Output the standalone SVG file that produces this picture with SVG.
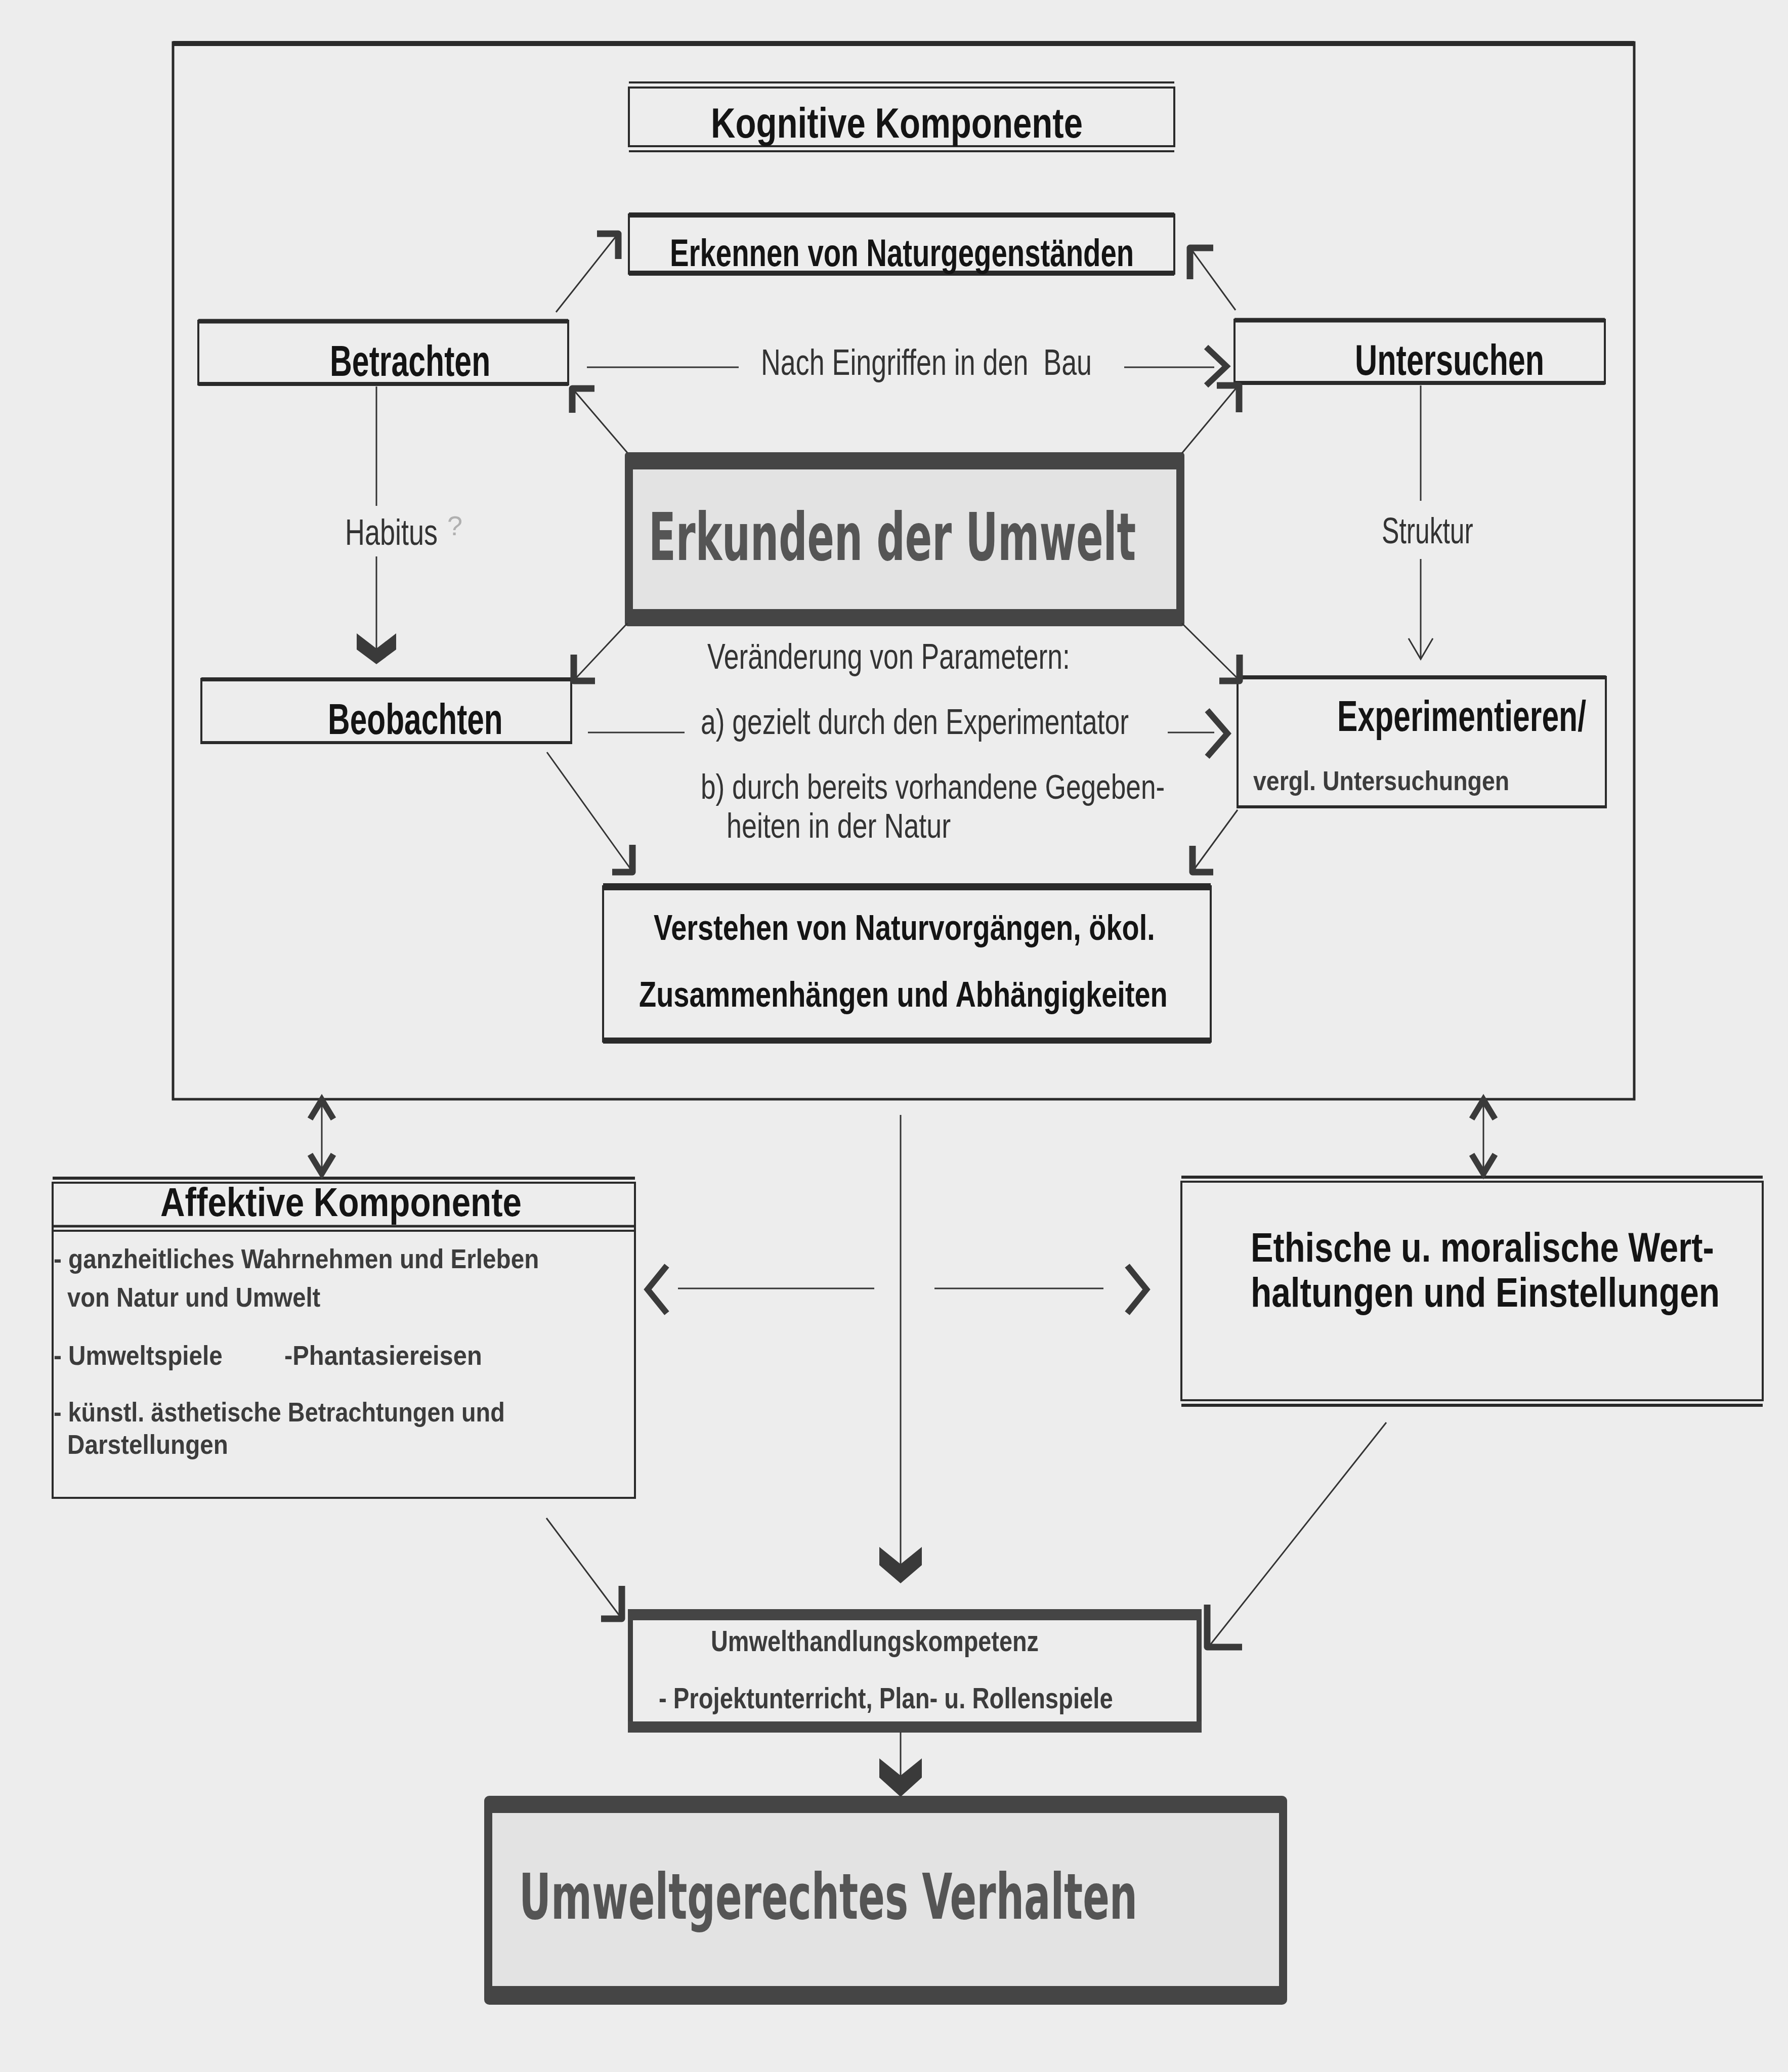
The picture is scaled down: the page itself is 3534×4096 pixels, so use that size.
<svg xmlns="http://www.w3.org/2000/svg" width="3534" height="4096" viewBox="0 0 3534 4096">
<defs>
<style>
.bg{fill:#ededed}
.frame{fill:none;stroke:#2a2a2a;stroke-width:5}
.box{fill:none;stroke:#2a2a2a;stroke-width:4}
.bar{stroke:#2a2a2a;stroke-linecap:butt}
.lbl{font-family:"Liberation Sans",Arial,sans-serif;font-weight:bold;fill:#141414}
.sub{font-family:"Liberation Sans",Arial,sans-serif;font-weight:bold;fill:#3c3c3c}
.reg{font-family:"Liberation Sans",Arial,sans-serif;font-weight:normal;fill:#333}
.big{font-family:"DejaVu Sans Condensed","DejaVu Sans",sans-serif;font-weight:bold;fill:#555}
.ln{fill:none;stroke:#333;stroke-width:3}
.ah{fill:none;stroke:#3a3a3a;stroke-width:13;stroke-linejoin:round;stroke-linecap:butt}
.chev{fill:none;stroke:#3a3a3a;stroke-width:12;stroke-linejoin:miter}
.heart{fill:#3a3a3a;stroke:none}
.thick{fill:#e3e3e3;stroke:#454545;stroke-width:16}
.band{fill:#454545}
</style>
</defs>
<rect class="bg" x="0" y="0" width="3534" height="4096"/>

<g id="frame-kognitiv">
<rect class="frame" x="342" y="84" width="2888" height="2089"/>
<line class="bar" x1="342" y1="86" x2="3230" y2="86" stroke-width="10"/>
</g>

<g id="node-kognitive">
<rect class="box" x="1243" y="173" width="1078" height="116"/>
<line class="bar" x1="1243" y1="163" x2="2321" y2="163" stroke-width="4"/>
<line class="bar" x1="1243" y1="299" x2="2321" y2="299" stroke-width="4"/>
<text class="lbl" transform="translate(1405,272) scale(0.75,1)" font-size="84" textLength="980" lengthAdjust="spacingAndGlyphs">Kognitive Komponente</text>
</g>

<g id="node-erkennen">
<rect class="box" x="1243" y="424" width="1078" height="117"/>
<line class="bar" x1="1243" y1="425" x2="2321" y2="425" stroke-width="10"/>
<line class="bar" x1="1243" y1="540" x2="2321" y2="540" stroke-width="10"/>
<text class="lbl" transform="translate(1324,526) scale(0.75,1)" font-size="76" textLength="1223" lengthAdjust="spacingAndGlyphs">Erkennen von Naturgegenständen</text>
</g>

<g id="node-betrachten">
<rect class="box" x="392" y="634" width="731" height="126"/>
<line class="bar" x1="392" y1="635" x2="1123" y2="635" stroke-width="9"/>
<line class="bar" x1="392" y1="759" x2="1123" y2="759" stroke-width="8"/>
<text class="lbl" transform="translate(652,743) scale(0.75,1)" font-size="86" textLength="423" lengthAdjust="spacingAndGlyphs">Betrachten</text>
</g>

<g id="node-untersuchen">
<rect class="box" x="2440" y="632" width="732" height="126"/>
<line class="bar" x1="2440" y1="633" x2="3172" y2="633" stroke-width="9"/>
<line class="bar" x1="2440" y1="757" x2="3172" y2="757" stroke-width="8"/>
<text class="lbl" transform="translate(2678,741) scale(0.75,1)" font-size="86" textLength="499" lengthAdjust="spacingAndGlyphs">Untersuchen</text>
</g>

<g id="node-erkunden">
<rect class="thick" x="1243" y="902" width="1090" height="328" rx="8"/>
<rect class="band" x="1235" y="894" width="1106" height="34" rx="6"/>
<rect class="band" x="1235" y="1204" width="1106" height="34" rx="6"/>
<text class="big" transform="translate(1282,1107) scale(0.7,1)" font-size="130" textLength="1376" lengthAdjust="spacingAndGlyphs">Erkunden der Umwelt</text>
</g>

<g id="node-beobachten">
<rect class="box" x="398" y="1342" width="731" height="127"/>
<line class="bar" x1="398" y1="1343" x2="1129" y2="1343" stroke-width="8"/>
<line class="bar" x1="398" y1="1468" x2="1129" y2="1468" stroke-width="6"/>
<text class="lbl" transform="translate(648,1451) scale(0.75,1)" font-size="85" textLength="461" lengthAdjust="spacingAndGlyphs">Beobachten</text>
</g>

<g id="node-experimentieren">
<rect class="box" x="2446" y="1338" width="728" height="258"/>
<line class="bar" x1="2446" y1="1339" x2="3174" y2="1339" stroke-width="8"/>
<line class="bar" x1="2446" y1="1595" x2="3174" y2="1595" stroke-width="6"/>
<text class="lbl" transform="translate(2643,1445) scale(0.75,1)" font-size="85" textLength="656" lengthAdjust="spacingAndGlyphs">Experimentieren/</text>
<text class="sub" transform="translate(2477,1562) scale(0.75,1)" font-size="54" textLength="675" lengthAdjust="spacingAndGlyphs">vergl. Untersuchungen</text>
</g>

<g id="node-verstehen">
<rect class="box" x="1192" y="1752" width="1201" height="307"/>
<line class="bar" x1="1192" y1="1753" x2="2393" y2="1753" stroke-width="14"/>
<line class="bar" x1="1192" y1="2057" x2="2393" y2="2057" stroke-width="12"/>
<text class="lbl" transform="translate(1292,1858) scale(0.75,1)" font-size="70" textLength="1321" lengthAdjust="spacingAndGlyphs">Verstehen von Naturvorgängen, ökol.</text>
<text class="lbl" transform="translate(1263,1990) scale(0.75,1)" font-size="70" textLength="1393" lengthAdjust="spacingAndGlyphs">Zusammenhängen und Abhängigkeiten</text>
</g>

<g id="node-affektive">
<rect class="box" x="104" y="2338" width="1151" height="623"/>
<line class="bar" x1="104" y1="2329" x2="1255" y2="2329" stroke-width="6"/>
<line class="bar" x1="104" y1="2424" x2="1255" y2="2424" stroke-width="5"/>
<line class="bar" x1="104" y1="2433" x2="1255" y2="2433" stroke-width="4"/>
<text class="lbl" transform="translate(317,2404) scale(0.75,1)" font-size="80" textLength="952" lengthAdjust="spacingAndGlyphs">Affektive Komponente</text>
<text class="sub" transform="translate(106,2507) scale(0.75,1)" font-size="54" textLength="1279" lengthAdjust="spacingAndGlyphs">- ganzheitliches Wahrnehmen und Erleben</text>
<text class="sub" transform="translate(133,2583) scale(0.75,1)" font-size="54" textLength="667" lengthAdjust="spacingAndGlyphs">von Natur und Umwelt</text>
<text class="sub" transform="translate(106,2698) scale(0.75,1)" font-size="54" textLength="445" lengthAdjust="spacingAndGlyphs">- Umweltspiele</text>
<text class="sub" transform="translate(562,2698) scale(0.75,1)" font-size="54" textLength="521" lengthAdjust="spacingAndGlyphs">-Phantasiereisen</text>
<text class="sub" transform="translate(106,2810) scale(0.75,1)" font-size="54" textLength="1189" lengthAdjust="spacingAndGlyphs">- künstl. ästhetische Betrachtungen und</text>
<text class="sub" transform="translate(133,2874) scale(0.75,1)" font-size="54" textLength="424" lengthAdjust="spacingAndGlyphs">Darstellungen</text>
</g>

<g id="node-ethische">
<rect class="box" x="2335" y="2336" width="1149" height="432"/>
<line class="bar" x1="2335" y1="2327" x2="3484" y2="2327" stroke-width="6"/>
<line class="bar" x1="2335" y1="2778" x2="3484" y2="2778" stroke-width="6"/>
<text class="lbl" transform="translate(2472,2494) scale(0.75,1)" font-size="82" textLength="1221" lengthAdjust="spacingAndGlyphs">Ethische u. moralische Wert-</text>
<text class="lbl" transform="translate(2472,2583) scale(0.75,1)" font-size="82" textLength="1236" lengthAdjust="spacingAndGlyphs">haltungen und Einstellungen</text>
</g>

<g id="node-umwelthandlung">
<rect fill="none" stroke="#404040" stroke-width="10" x="1246" y="3186" width="1124" height="234"/>
<rect class="band" x="1241" y="3182" width="1134" height="21"/>
<rect class="band" x="1241" y="3403" width="1134" height="21"/>
<text class="sub" transform="translate(1405,3264) scale(0.75,1)" font-size="58" textLength="864" lengthAdjust="spacingAndGlyphs">Umwelthandlungskompetenz</text>
<text class="sub" transform="translate(1302,3377) scale(0.75,1)" font-size="58" textLength="1197" lengthAdjust="spacingAndGlyphs">- Projektunterricht, Plan- u. Rollenspiele</text>
</g>

<g id="node-verhalten">
<rect class="thick" x="965" y="3558" width="1571" height="397" rx="12"/>
<rect class="band" x="957" y="3550" width="1587" height="34" rx="10"/>
<rect class="band" x="957" y="3926" width="1587" height="37" rx="10"/>
<text class="big" transform="translate(1026,3793) scale(0.7,1)" font-size="124" textLength="1746" lengthAdjust="spacingAndGlyphs">Umweltgerechtes Verhalten</text>
</g>

<g id="connectors">
<line class="ln" x1="1099" y1="617" x2="1220" y2="464"/>
<path class="ah" d="M1180,462 H1222 V512"/>
<line class="ln" x1="2442" y1="613" x2="2354" y2="492"/>
<path class="ah" d="M2398,490 H2352 V552"/>
<line class="ln" x1="1240" y1="895" x2="1133" y2="770"/>
<path class="ah" d="M1175,768 H1131 V816"/>
<line class="ln" x1="2336" y1="896" x2="2446" y2="764"/>
<path class="ah" d="M2405,762 H2449 V815"/>
<line class="ln" x1="1160" y1="726" x2="1460" y2="726"/>
<line class="ln" x1="2222" y1="726" x2="2400" y2="726"/>
<path class="chev" d="M2384,686 L2424,724 L2384,762"/>
<text class="reg" transform="translate(1504,741) scale(0.75,1)" font-size="72" textLength="872" lengthAdjust="spacingAndGlyphs" xml:space="preserve">Nach Eingriffen in den  Bau</text>
<line class="ln" x1="744" y1="764" x2="744" y2="1000"/>
<line class="ln" x1="744" y1="1100" x2="744" y2="1290"/>
<path class="heart" d="M705,1252 L744,1282 L783,1252 L783,1284 L744,1313 L705,1284 Z"/>
<text class="reg" transform="translate(682,1077) scale(0.75,1)" font-size="72" textLength="244" lengthAdjust="spacingAndGlyphs">Habitus</text>
<text class="reg" x="884" y="1058" font-size="54" style="fill:#b0b0b0">?</text>
<line class="ln" x1="2808" y1="762" x2="2808" y2="990"/>
<line class="ln" x1="2808" y1="1105" x2="2808" y2="1303"/>
<path class="ln" d="M2784,1262 L2808,1303 L2832,1262"/>
<text class="reg" transform="translate(2731,1074) scale(0.75,1)" font-size="72" textLength="241" lengthAdjust="spacingAndGlyphs">Struktur</text>
<line class="ln" x1="1240" y1="1232" x2="1136" y2="1343"/>
<path class="ah" d="M1134,1294 V1346 H1176"/>
<line class="ln" x1="2336" y1="1232" x2="2448" y2="1343"/>
<path class="ah" d="M2450,1294 V1346 H2410"/>
<text class="reg" transform="translate(1398,1322) scale(0.75,1)" font-size="70" textLength="956" lengthAdjust="spacingAndGlyphs">Veränderung von Parametern:</text>
<line class="ln" x1="1162" y1="1448" x2="1353" y2="1448" stroke-width="4"/>
<text class="reg" transform="translate(1385,1451) scale(0.75,1)" font-size="70" textLength="1128" lengthAdjust="spacingAndGlyphs">a) gezielt durch den Experimentator</text>
<line class="ln" x1="2308" y1="1448" x2="2400" y2="1448" stroke-width="4"/>
<path class="chev" d="M2386,1404 L2426,1450 L2386,1496"/>
<text class="reg" transform="translate(1385,1579) scale(0.75,1)" font-size="68" textLength="1223" lengthAdjust="spacingAndGlyphs">b) durch bereits vorhandene Gegeben-</text>
<text class="reg" transform="translate(1436,1656) scale(0.75,1)" font-size="68" textLength="591" lengthAdjust="spacingAndGlyphs">heiten in der Natur</text>
<line class="ln" x1="1081" y1="1487" x2="1248" y2="1720"/>
<path class="ah" d="M1250,1670 V1724 H1210"/>
<line class="ln" x1="2446" y1="1601" x2="2359" y2="1720"/>
<path class="ah" d="M2357,1672 V1724 H2398"/>
<line class="ln" x1="636" y1="2172" x2="636" y2="2322"/>
<path class="chev" d="M613,2212 L636,2174 L659,2212" stroke-width="8"/>
<path class="chev" d="M613,2282 L636,2320 L659,2282" stroke-width="8"/>
<line class="ln" x1="2932" y1="2172" x2="2932" y2="2322"/>
<path class="chev" d="M2909,2212 L2932,2174 L2955,2212" stroke-width="8"/>
<path class="chev" d="M2909,2282 L2932,2320 L2955,2282" stroke-width="8"/>
<line class="ln" x1="1340" y1="2547" x2="1728" y2="2547" stroke-width="4"/>
<line class="ln" x1="1847" y1="2547" x2="2181" y2="2547" stroke-width="4"/>
<path class="chev" d="M1318,2502 L1280,2549 L1318,2596"/>
<path class="chev" d="M2228,2502 L2266,2549 L2228,2596"/>
<line class="ln" x1="1780" y1="2204" x2="1780" y2="3100"/>
<path class="heart" d="M1738,3058 L1780,3092 L1822,3058 L1822,3094 L1780,3130 L1738,3094 Z"/>
<line class="ln" x1="1080" y1="3001" x2="1226" y2="3196"/>
<path class="ah" d="M1229,3135 V3200 H1188" stroke-width="16"/>
<line class="ln" x1="2740" y1="2812" x2="2390" y2="3254"/>
<path class="ah" d="M2386,3172 V3256 H2455" stroke-width="16"/>
<line class="ln" x1="1780" y1="3424" x2="1780" y2="3520"/>
<path class="heart" d="M1738,3476 L1780,3510 L1822,3476 L1822,3514 L1780,3552 L1738,3514 Z"/>
</g>
</svg>
